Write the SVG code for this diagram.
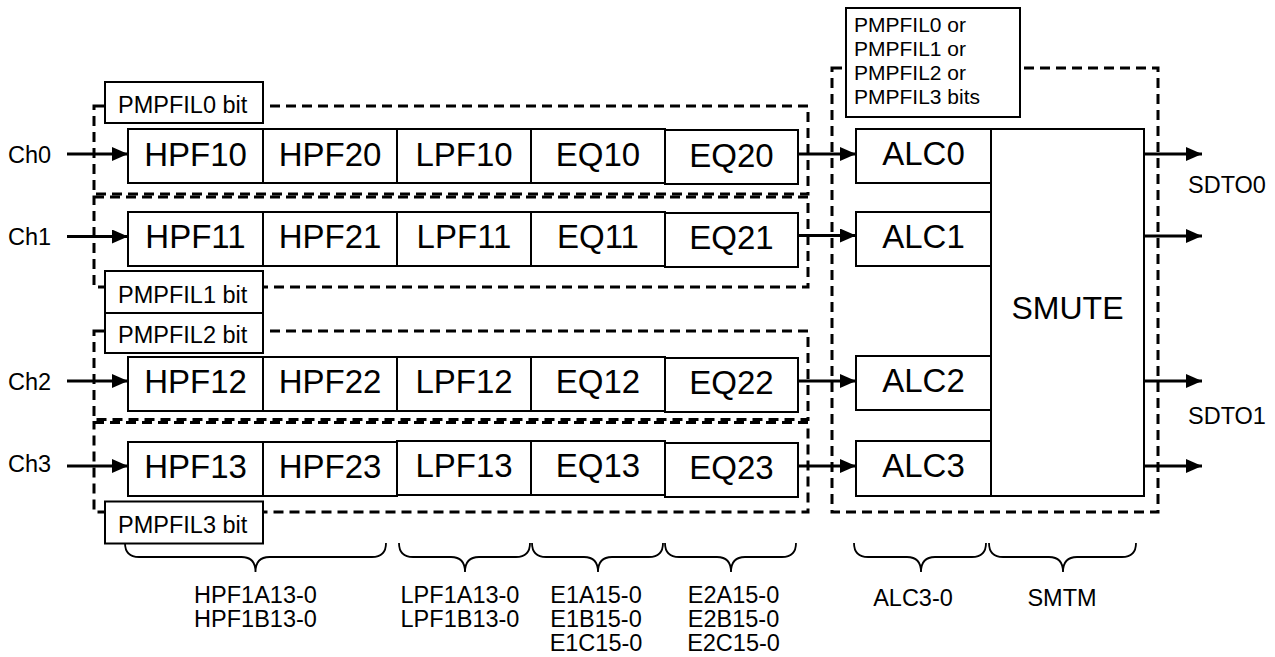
<svg xmlns="http://www.w3.org/2000/svg" width="1275" height="657" viewBox="0 0 1275 657">
<defs>
<marker id="ah" markerUnits="userSpaceOnUse" markerWidth="16" markerHeight="14" refX="16" refY="7" orient="auto">
<path d="M0,0 L16,7 L0,14 z" fill="#000"/>
</marker>
</defs>
<style>
text{font-family:"Liberation Sans",Arial,Helvetica,sans-serif;fill:#000}
.big{font-size:33px;text-anchor:middle}
.mid{font-size:32px;text-anchor:middle}
.sm{font-size:23.5px}
.sm2{font-size:21px}
.smc{font-size:23.5px;text-anchor:middle}
.box{fill:#fff;stroke:#000;stroke-width:2}
.dash{fill:none;stroke:#000;stroke-width:3;stroke-dasharray:10 6}
.lbl{fill:#fff;stroke:#000;stroke-width:2}
.conn{stroke:#000;stroke-width:3;fill:none;marker-end:url(#ah)}
.brace{fill:none;stroke:#000;stroke-width:1.8}
</style>
<rect width="1275" height="657" fill="#fff"/>

<g id="groups">
<rect id="grp0" class="dash" x="94" y="106" width="714" height="88"/>
<rect id="grp1" class="dash" x="94" y="197" width="714" height="90"/>
<rect id="grp2" class="dash" x="94" y="331" width="714" height="88.5"/>
<rect id="grp3" class="dash" x="94" y="422.5" width="714" height="89.5"/>
<rect id="grpR" class="dash" x="832" y="68" width="326" height="444"/>
</g>

<g id="lbl-pmpfil0"><rect class="lbl" x="105" y="82" width="158" height="41"/><text class="sm" x="118" y="113">PMPFIL0 bit</text></g>
<g id="lbl-pmpfil1"><rect class="lbl" x="105" y="271" width="158" height="42"/><text class="sm" x="118" y="303">PMPFIL1 bit</text></g>
<g id="lbl-pmpfil2"><rect class="lbl" x="105" y="313" width="158" height="40"/><text class="sm" x="118" y="343">PMPFIL2 bit</text></g>
<g id="lbl-pmpfil3"><rect class="lbl" x="105" y="501.5" width="158" height="42"/><text class="sm" x="118" y="533">PMPFIL3 bit</text></g>
<g id="lbl-pmpfilall"><rect class="lbl" x="846" y="8" width="174" height="109"/>
<text class="sm2" x="854" y="32">PMPFIL0 or</text>
<text class="sm2" x="854" y="56">PMPFIL1 or</text>
<text class="sm2" x="854" y="80">PMPFIL2 or</text>
<text class="sm2" x="854" y="104">PMPFIL3 bits</text></g>

<g id="row0">
<g id="HPF10"><rect class="box" x="128" y="129" width="135" height="54"/><text class="big" x="195.5" y="165.5">HPF10</text></g>
<g id="HPF20"><rect class="box" x="263" y="129" width="134" height="54"/><text class="big" x="330" y="165.5">HPF20</text></g>
<g id="LPF10"><rect class="box" x="397" y="129" width="134" height="54"/><text class="big" x="464" y="165.5">LPF10</text></g>
<g id="EQ10"><rect class="box" x="531" y="129" width="134" height="54"/><text class="big" x="598" y="165.5">EQ10</text></g>
<g id="EQ20"><rect class="box" x="665" y="130" width="133" height="54"/><text class="big" x="731.5" y="166.5">EQ20</text></g>
</g>
<g id="row1">
<g id="HPF11"><rect class="box" x="128" y="212" width="135" height="54"/><text class="big" x="195.5" y="248">HPF11</text></g>
<g id="HPF21"><rect class="box" x="263" y="212" width="134" height="54"/><text class="big" x="330" y="248">HPF21</text></g>
<g id="LPF11"><rect class="box" x="397" y="212" width="134" height="54"/><text class="big" x="464" y="248">LPF11</text></g>
<g id="EQ11"><rect class="box" x="531" y="212" width="134" height="54"/><text class="big" x="598" y="248">EQ11</text></g>
<g id="EQ21"><rect class="box" x="665" y="213" width="133" height="54"/><text class="big" x="731.5" y="249">EQ21</text></g>
</g>
<g id="row2">
<g id="HPF12"><rect class="box" x="128" y="357" width="135" height="54"/><text class="big" x="195.5" y="393">HPF12</text></g>
<g id="HPF22"><rect class="box" x="263" y="357" width="134" height="54"/><text class="big" x="330" y="393">HPF22</text></g>
<g id="LPF12"><rect class="box" x="397" y="357" width="134" height="54"/><text class="big" x="464" y="393">LPF12</text></g>
<g id="EQ12"><rect class="box" x="531" y="357" width="134" height="54"/><text class="big" x="598" y="393">EQ12</text></g>
<g id="EQ22"><rect class="box" x="665" y="358" width="133" height="54"/><text class="big" x="731.5" y="394">EQ22</text></g>
</g>
<g id="row3">
<g id="HPF13"><rect class="box" x="128" y="442" width="135" height="54"/><text class="big" x="195.5" y="478">HPF13</text></g>
<g id="HPF23"><rect class="box" x="263" y="442" width="134" height="54"/><text class="big" x="330" y="478">HPF23</text></g>
<g id="LPF13"><rect class="box" x="397" y="441" width="134" height="54"/><text class="big" x="464" y="477">LPF13</text></g>
<g id="EQ13"><rect class="box" x="531" y="441" width="134" height="54"/><text class="big" x="598" y="477">EQ13</text></g>
<g id="EQ23"><rect class="box" x="665" y="443" width="133" height="54"/><text class="big" x="731.5" y="479">EQ23</text></g>
</g>

<g id="ALC0"><rect class="box" x="856" y="129" width="135" height="54"/><text class="big" x="923.5" y="164.5">ALC0</text></g>
<g id="ALC1"><rect class="box" x="856" y="212" width="135" height="54"/><text class="big" x="923.5" y="247.5">ALC1</text></g>
<g id="ALC2"><rect class="box" x="856" y="356" width="135" height="54"/><text class="big" x="923.5" y="391.5">ALC2</text></g>
<g id="ALC3"><rect class="box" x="856" y="441" width="135" height="55"/><text class="big" x="923.5" y="477">ALC3</text></g>
<g id="SMUTE"><rect class="box" x="991" y="129" width="153" height="367"/><text class="mid" x="1067.5" y="319">SMUTE</text></g>

<g id="connectors">
<line class="conn" x1="67" y1="154" x2="128" y2="154"/>
<line class="conn" x1="67" y1="236.5" x2="128" y2="236.5"/>
<line class="conn" x1="67" y1="381" x2="128" y2="381"/>
<line class="conn" x1="67" y1="466" x2="128" y2="466"/>
<line class="conn" x1="798" y1="154" x2="856" y2="154"/>
<line class="conn" x1="798" y1="235.5" x2="856" y2="235.5"/>
<line class="conn" x1="798" y1="381" x2="856" y2="381"/>
<line class="conn" x1="798" y1="466" x2="856" y2="466"/>
<line class="conn" x1="1144" y1="154" x2="1202" y2="154"/>
<line class="conn" x1="1144" y1="236" x2="1202" y2="236"/>
<line class="conn" x1="1144" y1="381" x2="1202" y2="381"/>
<line class="conn" x1="1144" y1="466" x2="1202" y2="466"/>
</g>

<g id="io-labels">
<text class="sm" x="8" y="163">Ch0</text>
<text class="sm" x="8" y="245">Ch1</text>
<text class="sm" x="8" y="390">Ch2</text>
<text class="sm" x="8" y="472">Ch3</text>
<text class="sm" x="1188" y="193">SDTO0</text>
<text class="sm" x="1188" y="424">SDTO1</text>
</g>

<g id="braces">
<path class="brace" d="M125,543 Q125,557 139,557 L241.5,557 Q255.5,557 255.5,572 Q255.5,557 269.5,557 L372,557 Q386,557 386,543"/>
<path class="brace" d="M399,543 Q399,557 413,557 L451,557 Q465,557 465,572 Q465,557 479,557 L516,557 Q530,557 530,543"/>
<path class="brace" d="M532,543 Q532,557 546,557 L584,557 Q598,557 598,572 Q598,557 612,557 L649,557 Q663,557 663,543"/>
<path class="brace" d="M665,543 Q665,557 679,557 L717,557 Q731,557 731,572 Q731,557 745,557 L782,557 Q796,557 796,543"/>
<path class="brace" d="M854,543 Q854,557 868,557 L907,557 Q921,557 921,572 Q921,557 935,557 L972,557 Q986,557 986,543"/>
<path class="brace" d="M989,543 Q989,557 1003,557 L1049,557 Q1063,557 1063,572 Q1063,557 1077,557 L1122,557 Q1136,557 1136,543"/>
</g>

<g id="brace-labels">
<text class="smc" x="255.5" y="603">HPF1A13-0</text>
<text class="smc" x="255.5" y="627">HPF1B13-0</text>
<text class="smc" x="460" y="603">LPF1A13-0</text>
<text class="smc" x="460" y="627">LPF1B13-0</text>
<text class="smc" x="596" y="603">E1A15-0</text>
<text class="smc" x="596" y="627">E1B15-0</text>
<text class="smc" x="596" y="650.5">E1C15-0</text>
<text class="smc" x="733.5" y="603">E2A15-0</text>
<text class="smc" x="733.5" y="627">E2B15-0</text>
<text class="smc" x="733.5" y="650.5">E2C15-0</text>
<text class="smc" x="913" y="606">ALC3-0</text>
<text class="smc" x="1062" y="606">SMTM</text>
</g>
</svg>
